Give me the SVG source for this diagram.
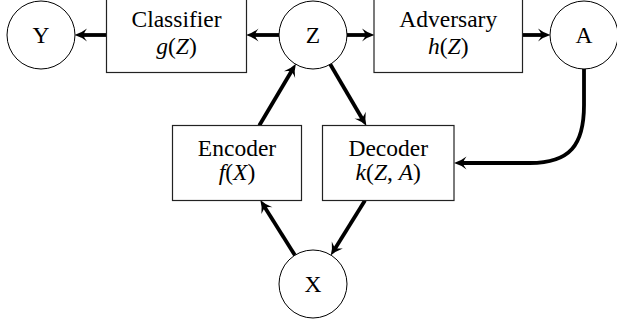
<svg xmlns="http://www.w3.org/2000/svg" width="617" height="324" viewBox="0 0 617 324">
<style>
.bg{fill:#fff}
.node{fill:#fff;stroke:#000;stroke-width:1}
.box{fill:#fff;stroke:#222;stroke-width:1.2}
.t{font-family:"Liberation Serif","Times New Roman",serif;font-size:23.5px;fill:#000;text-anchor:middle}
.m{font-style:italic}
.e{fill:none;stroke:#000;stroke-width:3.8;marker-end:url(#ah)}
</style>
<defs>
<marker id="ah" markerUnits="userSpaceOnUse" viewBox="-7 -8 16 16" markerWidth="16" markerHeight="16" refX="0" refY="0" orient="auto">
<path d="M7.5,0 Q1,-1.8 -5,-6.5 Q-1.5,-1.5 -1.5,0 Q-1.5,1.5 -5,6.5 Q1,1.8 7.5,0 Z" fill="#000"/>
</marker>
</defs>
<rect class="bg" x="0" y="0" width="617" height="324"/>
<g id="connectors">
<line class="e" x1="106.5" y1="35" x2="82" y2="35"/>
<line class="e" x1="279" y1="35" x2="253.5" y2="35"/>
<line class="e" x1="347" y1="35" x2="367" y2="35"/>
<line class="e" x1="522.5" y1="35" x2="543" y2="35"/>
<line class="e" x1="259.26" y1="125.5" x2="292.07" y2="70.26"/>
<line class="e" x1="330.23" y1="64.31" x2="362.65" y2="119.47"/>
<line class="e" x1="294.92" y1="255.21" x2="264.27" y2="206.43"/>
<line class="e" x1="364.93" y1="200.5" x2="334.66" y2="249.19"/>
<path class="e" d="M584,69 L584,105 C584,145 570,163 530,163 L461.5,163"/>
</g>
<g id="Y"><circle class="node" cx="41" cy="35" r="34"/><text class="t" x="41" y="43.3">Y</text></g>
<g id="Z"><circle class="node" cx="313" cy="35" r="34"/><text class="t" x="313" y="43.3">Z</text></g>
<g id="A"><circle class="node" cx="584" cy="35" r="34"/><text class="t" x="584" y="43.3">A</text></g>
<g id="X"><circle class="node" cx="313" cy="284" r="34"/><text class="t" x="313" y="292.3">X</text></g>
<g id="classifier"><rect class="box" x="106.5" y="-2.5" width="140" height="75"/>
<text class="t" x="176.5" y="27">Classifier</text>
<text class="t" x="176.5" y="54"><tspan class="m">g</tspan>(<tspan class="m">Z</tspan>)</text></g>
<g id="adversary"><rect class="box" x="374" y="-2.5" width="148.5" height="75"/>
<text class="t" x="448.25" y="27">Adversary</text>
<text class="t" x="448.25" y="54"><tspan class="m">h</tspan>(<tspan class="m">Z</tspan>)</text></g>
<g id="encoder"><rect class="box" x="172.5" y="125.5" width="129" height="75"/>
<text class="t" x="237" y="156">Encoder</text>
<text class="t" x="237" y="180"><tspan class="m">f</tspan>(<tspan class="m">X</tspan>)</text></g>
<g id="decoder"><rect class="box" x="322.5" y="125.5" width="131.5" height="75"/>
<text class="t" x="388.25" y="156">Decoder</text>
<text class="t" x="388.25" y="180"><tspan class="m">k</tspan>(<tspan class="m">Z</tspan>, <tspan class="m">A</tspan>)</text></g>
</svg>
